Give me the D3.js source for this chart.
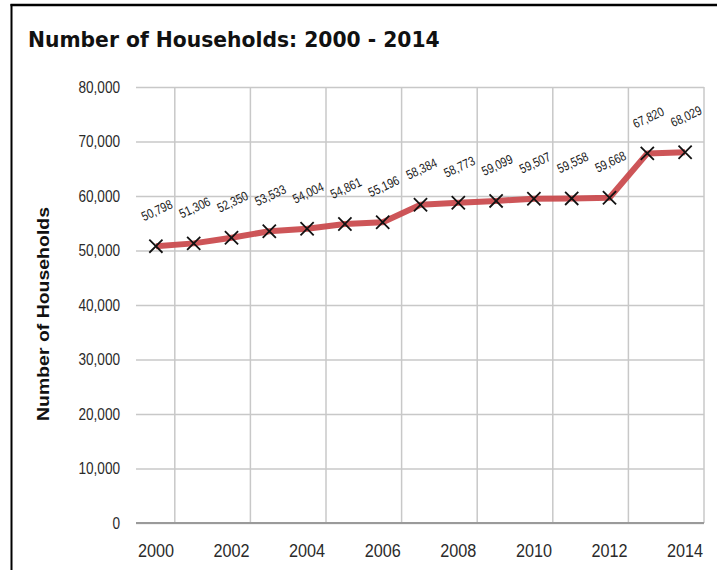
<!DOCTYPE html>
<html><head><meta charset="utf-8">
<script src="https://cdn.jsdelivr.net/npm/d3@7"></script>
<style>body{margin:0;background:#fff} svg{display:block}</style>
</head><body><svg id="c" width="717" height="570"></svg>
<script>
const years = [2000,2001,2002,2003,2004,2005,2006,2007,2008,2009,2010,2011,2012,2013,2014];
const households = [50798,51306,52350,53533,54004,54861,55196,58384,58773,59099,59507,59558,59668,67820,68029];
const yTicks = [0,10000,20000,30000,40000,50000,60000,70000,80000];
const xTickYears = [2000,2002,2004,2006,2008,2010,2012,2014];
const chartTitle = "Number of Households: 2000 - 2014";
const yTitle = "Number of Households";

const svg = d3.select("#c");
const L = 137, R = 704, T = 87, B = 523;
const x = d3.scaleBand().domain(years).range([L, R]).padding(0);
const y = d3.scaleLinear().domain([0, 80000]).range([B, T]);
const bw = x.bandwidth();

function squeeze(sel, k) {
  sel.each(function () {
    const w = this.getComputedTextLength();
    d3.select(this).attr("textLength", w * k).attr("lengthAdjust", "spacingAndGlyphs");
  });
}

// frame
svg.append("line").attr("x1", 10.5).attr("x2", 717).attr("y1", 5).attr("y2", 5)
  .attr("stroke", "#000").attr("stroke-width", 2.5);
svg.append("line").attr("x1", 11.5).attr("x2", 11.5).attr("y1", 4).attr("y2", 570)
  .attr("stroke", "#000").attr("stroke-width", 2);

// title
const t = svg.append("text").attr("x", 28).attr("y", 47)
  .attr("font-family", "DejaVu Sans, Verdana, sans-serif").attr("font-weight", "bold")
  .attr("font-size", 18).attr("fill", "#111").text(chartTitle);
{ const w = t.node().getComputedTextLength(); t.attr("font-size", 18 * 412 / w); }

// y axis with gridlines
const gy = svg.append("g").attr("transform", `translate(136,0)`)
  .call(d3.axisLeft(y).tickValues(yTicks).tickFormat(d3.format(","))
    .tickSize(-(R - 136)).tickPadding(16));
gy.select(".domain").remove();
gy.selectAll(".tick line").attr("stroke", "#c8c8c8").attr("stroke-width", 1.5);
gy.selectAll(".tick text").attr("font-family", "Liberation Sans, Arial, sans-serif")
  .attr("font-size", 16).attr("fill", "#2a2a2a").call(squeeze, 0.85);

// vertical gridlines
svg.append("g").selectAll("line")
  .data(years.filter((d, i) => i % 2 === 0))
  .join("line")
  .attr("x1", d => x(d) + bw).attr("x2", d => x(d) + bw)
  .attr("y1", T).attr("y2", B)
  .attr("stroke", "#c8c8c8").attr("stroke-width", 1.5);

// bottom axis line
svg.append("line").attr("x1", 136).attr("x2", R).attr("y1", y(0)).attr("y2", y(0))
  .attr("stroke", "#9a9a9a").attr("stroke-width", 2);

// x axis labels
const gx = svg.append("g").attr("transform", `translate(0,${B})`)
  .call(d3.axisBottom(x).tickValues(xTickYears).tickSize(0).tickPadding(21));
gx.select(".domain").remove();
gx.selectAll(".tick text").attr("font-family", "Liberation Sans, Arial, sans-serif")
  .attr("font-size", 18).attr("fill", "#2a2a2a").call(squeeze, 0.9);

// y title
const yt = svg.append("text")
  .attr("transform", `translate(49,314) rotate(-90)`)
  .attr("text-anchor", "middle")
  .attr("font-family", "Liberation Sans, Arial, sans-serif").attr("font-weight", "bold")
  .attr("font-size", 17).attr("fill", "#111").text(yTitle);
{ const w = yt.node().getComputedTextLength(); yt.attr("textLength", 214).attr("lengthAdjust", "spacingAndGlyphs"); }

// series
const pts = years.map((yr, i) => ({ yr, v: households[i] }));
const cx = d => x(d.yr) + bw / 2;
svg.append("path").datum(pts)
  .attr("d", d3.line().x(cx).y(d => y(d.v)))
  .attr("fill", "none").attr("stroke", "#c9474a").attr("stroke-opacity", 0.92)
  .attr("stroke-width", 6).attr("stroke-linejoin", "round");

svg.append("g").selectAll("path").data(pts).join("path")
  .attr("transform", d => `translate(${cx(d)},${y(d.v)})`)
  .attr("d", d3.symbol().type(d3.symbolX).size(115))
  .attr("fill", "none").attr("stroke", "#111").attr("stroke-width", 1.8);

svg.append("g").selectAll("text").data(pts).join("text")
  .attr("transform", d => `translate(${cx(d) + 1},${y(d.v) - 36}) rotate(-25)`)
  .attr("text-anchor", "middle").attr("dy", "0.35em")
  .attr("font-family", "Liberation Sans, Arial, sans-serif").attr("font-size", 13)
  .attr("fill", "#1a1a1a")
  .text(d => d3.format(",")(d.v))
  .call(squeeze, 0.82);
</script></body></html>
